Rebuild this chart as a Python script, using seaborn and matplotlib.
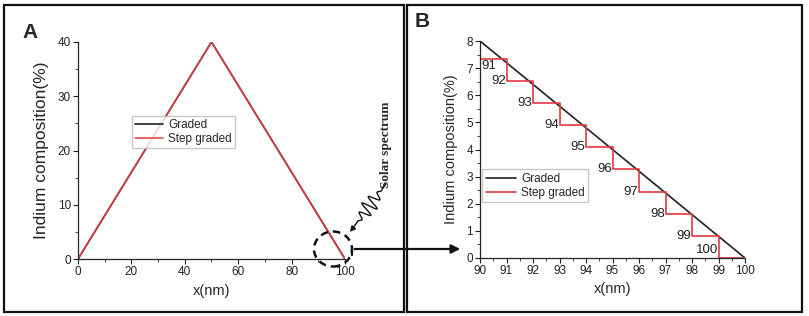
import numpy as np
import pandas as pd
import matplotlib
matplotlib.use('Agg')
import matplotlib.pyplot as plt
import seaborn as sns
from matplotlib.lines import Line2D
from matplotlib.patches import Ellipse, Rectangle, FancyArrowPatch
from matplotlib.ticker import MultipleLocator

# panel A: full profile (graded triangle, step graded follows it)
graded_x = [0, 50, 100]
graded_y = [0, 40, 0]
step_full_x = [0, 50, 100]
step_full_y = [0, 40, 0]

# panel B: zoom on 90-100 nm
zoom_graded_x = [90, 100]
zoom_graded_y = [8, 0]
step_x = [90, 91, 92, 93, 94, 95, 96, 97, 98, 99, 100]
step_y = [7.35, 6.53, 5.71, 4.90, 4.08, 3.27, 2.45, 1.63, 0.82, 0.0, 0.0]
step_labels = ['91', '92', '93', '94', '95', '96', '97', '98', '99', '100']

W, H = 809, 316
RED = '#e2393f'

sns.set_style('ticks')
plt.rcParams['font.family'] = ['Liberation Sans', 'DejaVu Sans']
plt.rcParams['axes.linewidth'] = 0.9

fig = plt.figure(figsize=(W / 100, H / 100), dpi=100)


def fx(px):
    return px / W


def fy(py):
    return 1 - py / H


def style_axes(ax, ysize):
    sns.despine(ax=ax)
    ax.tick_params(which='major', direction='out', length=3.5, width=0.8,
                   labelsize=8.5, pad=1.5, colors='#222222')
    ax.tick_params(which='minor', direction='out', length=2, width=0.7,
                   colors='#444444')
    ax.set_xlabel('x(nm)', fontsize=10.5, labelpad=4)
    ax.set_ylabel('Indium composition(%)', fontsize=ysize, labelpad=6)


# ---- panel A
axA = fig.add_axes([fx(78), fy(259), fx(345) - fx(78), fy(42) - fy(259)])
dfA = pd.DataFrame({'x': graded_x, 'y': graded_y})
dfA2 = pd.DataFrame({'x': step_full_x, 'y': step_full_y})
sns.lineplot(data=dfA, x='x', y='y', ax=axA, color='#222222', lw=1.2,
             label='Graded', sort=False)
sns.lineplot(data=dfA2, x='x', y='y', ax=axA, color=RED, lw=1.1,
             label='Step graded', sort=False)
axA.set_xlim(0, 100)
axA.set_ylim(0, 40)
axA.xaxis.set_major_locator(MultipleLocator(20))
axA.xaxis.set_minor_locator(MultipleLocator(10))
axA.yaxis.set_major_locator(MultipleLocator(10))
axA.yaxis.set_minor_locator(MultipleLocator(5))
style_axes(axA, 12.5)
axA.legend(loc='center', bbox_to_anchor=(0.395, 0.585), fontsize=8.5,
           frameon=True, fancybox=False, edgecolor='#bbbbbb',
           handlelength=2.4, borderpad=0.3, labelspacing=0.15,
           handletextpad=0.4, borderaxespad=0)

# ---- panel B
axB = fig.add_axes([fx(480), fy(258), fx(745) - fx(480), fy(41) - fy(258)])
dfB = pd.DataFrame({'x': zoom_graded_x, 'y': zoom_graded_y})
dfB2 = pd.DataFrame({'x': step_x, 'y': step_y})
sns.lineplot(data=dfB, x='x', y='y', ax=axB, color='#222222', lw=1.2,
             label='Graded')
sns.lineplot(data=dfB2, x='x', y='y', ax=axB, color=RED, lw=1.2,
             label='Step graded', drawstyle='steps-post')
axB.set_xlim(90, 100)
axB.set_ylim(0, 8)
axB.xaxis.set_major_locator(MultipleLocator(1))
axB.xaxis.set_minor_locator(MultipleLocator(0.5))
axB.yaxis.set_major_locator(MultipleLocator(1))
axB.yaxis.set_minor_locator(MultipleLocator(0.5))
style_axes(axB, 10.5)
axB.legend(loc='upper left', bbox_to_anchor=(0.008, 0.408), fontsize=8.5,
           frameon=True, fancybox=False, edgecolor='#bbbbbb',
           handlelength=2.6, borderpad=0.3, labelspacing=0.15,
           handletextpad=0.4, borderaxespad=0)

# step labels
for i, lab in enumerate(step_labels):
    if i == 0:
        axB.text(step_x[0] + 0.05, step_y[0] - 0.05, lab, ha='left', va='top',
                 fontsize=9.5, color='#222222')
    elif i == len(step_labels) - 1:
        axB.text(step_x[i] - 0.03, step_y[i] + 0.07, lab, ha='right',
                 va='bottom', fontsize=9.5, color='#222222')
    else:
        axB.text(step_x[i] - 0.03, step_y[i], lab, ha='right', va='center',
                 fontsize=9.5, color='#222222')

# ---- panel frames and letters
for x0, x1 in [(4, 404), (407, 802)]:
    fig.add_artist(Rectangle((fx(x0), fy(312)), fx(x1) - fx(x0), fy(5) - fy(312),
                             transform=fig.transFigure, fill=False,
                             edgecolor='#111111', lw=1.6))
fig.text(fx(22), fy(38), 'A', fontsize=15, fontweight='bold', va='baseline')
fig.text(fx(415), fy(27), 'B', fontsize=15, fontweight='bold', va='baseline')

# ---- dashed circle, connector arrow
fig.add_artist(Ellipse((fx(333), fy(249)), fx(38), 35 / H,
                       transform=fig.transFigure, fill=False,
                       edgecolor='#111111', lw=1.8, ls=(0, (3, 2))))
fig.add_artist(Line2D([fx(352), fx(352)], [fy(255), fy(249)],
                      transform=fig.transFigure, color='#111111', lw=1.6))
fig.add_artist(FancyArrowPatch((fx(352), fy(249)), (fx(463), fy(249)),
                               transform=fig.transFigure, arrowstyle='-|>',
                               mutation_scale=13, color='#111111', lw=1.6))

# ---- solar spectrum squiggle
t = np.linspace(0, 1, 300)
p0 = np.array([353.0, 228.0])
p1 = np.array([386.0, 184.0])
d = p1 - p0
L = np.hypot(*d)
u = d / L
n = np.array([-u[1], u[0]])
amp = 8.0 * np.sin(np.pi * np.clip((t - 0.1) / 0.8, 0, 1)) ** 1.5
wave = amp * np.sin(2 * np.pi * 6 * t)
pts = p0[None, :] + np.outer(t * L, u) + np.outer(wave, n)
fig.add_artist(Line2D(fx(pts[:, 0]), fy(pts[:, 1]), transform=fig.transFigure,
                      color='#111111', lw=1.0))
fig.add_artist(FancyArrowPatch((fx(354), fy(227)), (fx(348), fy(234)),
                               transform=fig.transFigure, arrowstyle='-|>',
                               mutation_scale=8, color='#111111', lw=1.0))
fig.text(fx(386), fy(188), 'Solar spectrum', rotation=90, ha='center',
         va='bottom', fontsize=9.5, fontweight='bold',
         family=['Liberation Serif', 'DejaVu Serif'])

fig.savefig('out.png', dpi=100)
